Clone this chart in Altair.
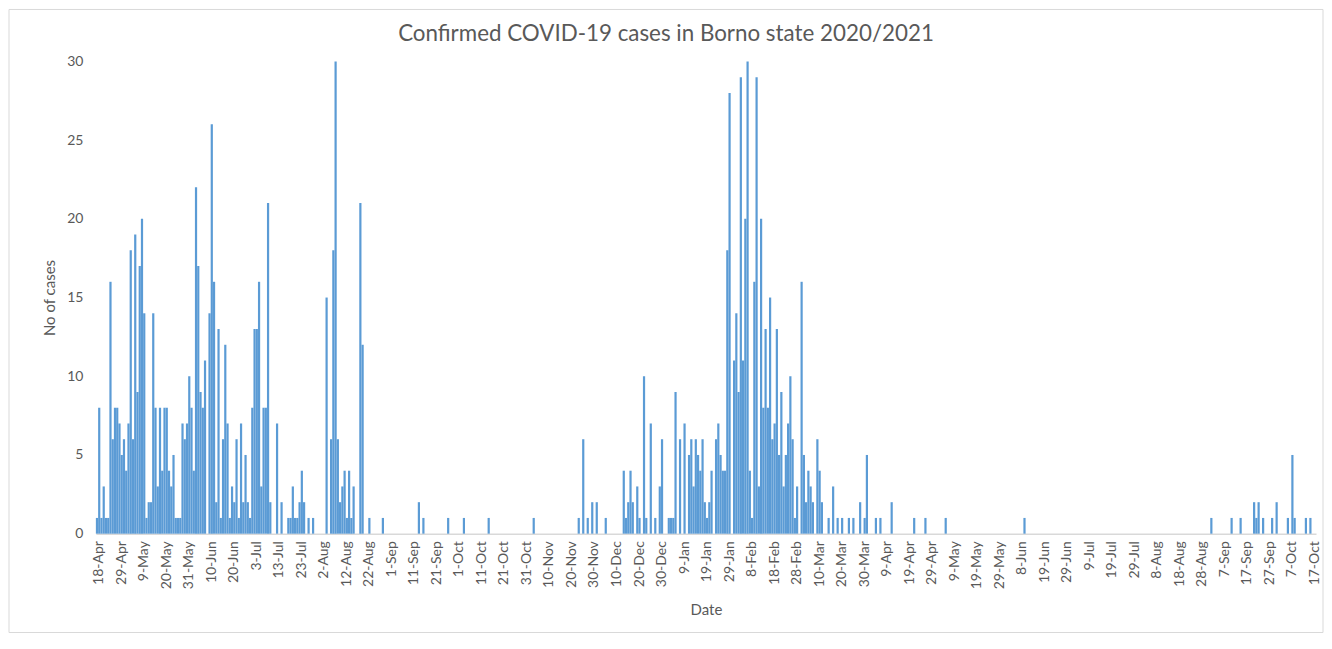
import altair as alt
import pandas as pd

# daily confirmed cases, one entry per reported day (18-Apr-2020 ... 17-Oct-2021)
cases = [
    1, 8, 1, 3, 1, 1, 16, 6, 8, 8, 7, 5, 6, 4, 7, 18, 6, 19, 9, 17,
    20, 14, 1, 2, 2, 14, 8, 3, 8, 4, 8, 8, 4, 3, 5, 1, 1, 1, 7, 6,
    7, 10, 8, 4, 22, 17, 9, 8, 11, 0, 14, 26, 16, 2, 13, 1, 6, 12, 7, 1,
    3, 2, 6, 1, 7, 2, 5, 2, 1, 8, 13, 13, 16, 3, 8, 8, 21, 2, 0, 0,
    7, 0, 2, 0, 0, 1, 1, 3, 1, 1, 2, 4, 2, 0, 1, 0, 1, 0, 0, 0,
    0, 0, 15, 0, 6, 18, 30, 6, 2, 3, 4, 1, 4, 1, 3, 0, 0, 21, 12, 0,
    0, 1, 0, 0, 0, 0, 0, 1, 0, 0, 0, 0, 0, 0, 0, 0, 0, 0, 0, 0,
    0, 0, 0, 2, 0, 1, 0, 0, 0, 0, 0, 0, 0, 0, 0, 0, 1, 0, 0, 0,
    0, 0, 0, 1, 0, 0, 0, 0, 0, 0, 0, 0, 0, 0, 1, 0, 0, 0, 0, 0,
    0, 0, 0, 0, 0, 0, 0, 0, 0, 0, 0, 0, 0, 0, 1, 0, 0, 0, 0, 0,
    0, 0, 0, 0, 0, 0, 0, 0, 0, 0, 0, 0, 0, 0, 1, 0, 6, 0, 1, 0,
    2, 0, 2, 0, 0, 0, 1, 0, 0, 0, 0, 0, 0, 0, 4, 1, 2, 4, 2, 0,
    3, 1, 0, 10, 1, 0, 7, 0, 1, 0, 3, 6, 0, 0, 1, 1, 1, 9, 0, 6,
    0, 7, 0, 5, 6, 3, 6, 5, 4, 6, 2, 1, 2, 4, 0, 6, 7, 5, 4, 4,
    18, 28, 0, 11, 14, 9, 29, 11, 20, 30, 4, 1, 16, 29, 3, 20, 8, 13, 8, 15,
    6, 7, 13, 5, 9, 3, 5, 7, 10, 6, 1, 3, 0, 16, 5, 2, 4, 3, 2, 0,
    6, 4, 2, 0, 0, 1, 0, 3, 0, 1, 0, 1, 0, 0, 1, 0, 1, 0, 0, 2,
    0, 1, 5, 0, 0, 0, 1, 0, 1, 0, 0, 0, 0, 2, 0, 0, 0, 0, 0, 0,
    0, 0, 0, 1, 0, 0, 0, 0, 1, 0, 0, 0, 0, 0, 0, 0, 0, 1, 0, 0,
    0, 0, 0, 0, 0, 0, 0, 0, 0, 0, 0, 0, 0, 0, 0, 0, 0, 0, 0, 0,
    0, 0, 0, 0, 0, 0, 0, 0, 0, 0, 0, 0, 1, 0, 0, 0, 0, 0, 0, 0,
    0, 0, 0, 0, 0, 0, 0, 0, 0, 0, 0, 0, 0, 0, 0, 0, 0, 0, 0, 0,
    0, 0, 0, 0, 0, 0, 0, 0, 0, 0, 0, 0, 0, 0, 0, 0, 0, 0, 0, 0,
    0, 0, 0, 0, 0, 0, 0, 0, 0, 0, 0, 0, 0, 0, 0, 0, 0, 0, 0, 0,
    0, 0, 0, 0, 0, 0, 0, 0, 0, 0, 0, 0, 0, 0, 0, 1, 0, 0, 0, 0,
    0, 0, 0, 0, 1, 0, 0, 0, 1, 0, 0, 0, 0, 0, 2, 1, 2, 0, 1, 0,
    0, 0, 1, 0, 2, 0, 0, 0, 0, 1, 0, 5, 1, 0, 0, 0, 0, 1, 0, 1,
    0, 0,
]

# every 10th category carries a date label
tick_labels = [
    "18-Apr", "29-Apr", "9-May", "20-May", "31-May", "10-Jun", "20-Jun", "3-Jul",
    "13-Jul", "23-Jul", "2-Aug", "12-Aug", "22-Aug", "1-Sep", "11-Sep", "21-Sep",
    "1-Oct", "11-Oct", "21-Oct", "31-Oct", "10-Nov", "20-Nov", "30-Nov", "10-Dec",
    "20-Dec", "30-Dec", "9-Jan", "19-Jan", "29-Jan", "8-Feb", "18-Feb", "28-Feb",
    "10-Mar", "20-Mar", "30-Mar", "9-Apr", "19-Apr", "29-Apr", "9-May", "19-May",
    "29-May", "8-Jun", "19-Jun", "29-Jun", "9-Jul", "19-Jul", "29-Jul", "8-Aug",
    "18-Aug", "28-Aug", "7-Sep", "17-Sep", "27-Sep", "7-Oct", "17-Oct",
]
tick_index = list(range(1, len(cases), 10))
y_ticks = [0, 5, 10, 15, 20, 25, 30]

df = pd.DataFrame({"day": list(range(len(cases))), "cases": cases})

label_js = "[" + ",".join("'%s'" % t for t in tick_labels) + "]"
FONT = "Lato"
GREY = "#595959"
W, H = 1222, 473

bars = alt.Chart(df).mark_bar(color="#5b9bd5").encode(
    x=alt.X(
        "day:O",
        sort=None,
        scale=alt.Scale(paddingInner=0.02, paddingOuter=0),
        axis=alt.Axis(
            values=tick_index,
            labelExpr=label_js + "[(datum.value - 1) / 10]",
            labelAngle=-90,
            labelAlign="right",
            labelBaseline="middle",
            labelPadding=7,
            labelFontSize=14,
            labelColor=GREY,
            labelFont=FONT,
            labelOverlap=False,
            ticks=False,
            domainColor="#d9d9d9",
            domainWidth=1.5,
            title="Date",
            titleFont=FONT,
            titleFontSize=15,
            titleFontWeight="normal",
            titleColor=GREY,
            titleX=W / 2,
            titleY=76,
            titleBaseline="middle",
        ),
    ),
    y=alt.Y(
        "cases:Q",
        scale=alt.Scale(domain=[0, 30], nice=False),
        axis=alt.Axis(
            values=y_ticks,
            grid=False,
            domain=False,
            ticks=False,
            labelPadding=13,
            labelFontSize=14,
            labelColor=GREY,
            labelFont=FONT,
            title="No of cases",
            titleFont=FONT,
            titleFontSize=15,
            titleFontWeight="normal",
            titleColor=GREY,
            titleX=-46,
            titleY=H / 2,
            titleBaseline="middle",
            titleAngle=-90,
        ),
    ),
)

# light grey chart-area border, as in the spreadsheet chart
frame = alt.Chart(pd.DataFrame({"f": [0]})).mark_rect(
    fill=None, stroke="#d9d9d9", strokeWidth=1, clip=False
).encode(
    x=alt.value(-87), x2=alt.value(1229), y=alt.value(-52), y2=alt.value(572)
)

chart = alt.layer(frame, bars).properties(
    width=W,
    height=H,
    background="white",
    title=alt.TitleParams(
        "Confirmed COVID-19 cases in Borno state 2020/2021",
        font=FONT,
        fontSize=22.4,
        fontWeight="normal",
        color=GREY,
        anchor="middle",
        dx=-40,
        dy=36,
        offset=0,
    ),
    autosize=alt.AutoSizeParams(type="none"),
    padding={"left": 88, "top": 53, "right": 8, "bottom": 100},
).configure_view(stroke=None)

chart.save("out.html", embed_options={"renderer": "svg", "actions": False})
